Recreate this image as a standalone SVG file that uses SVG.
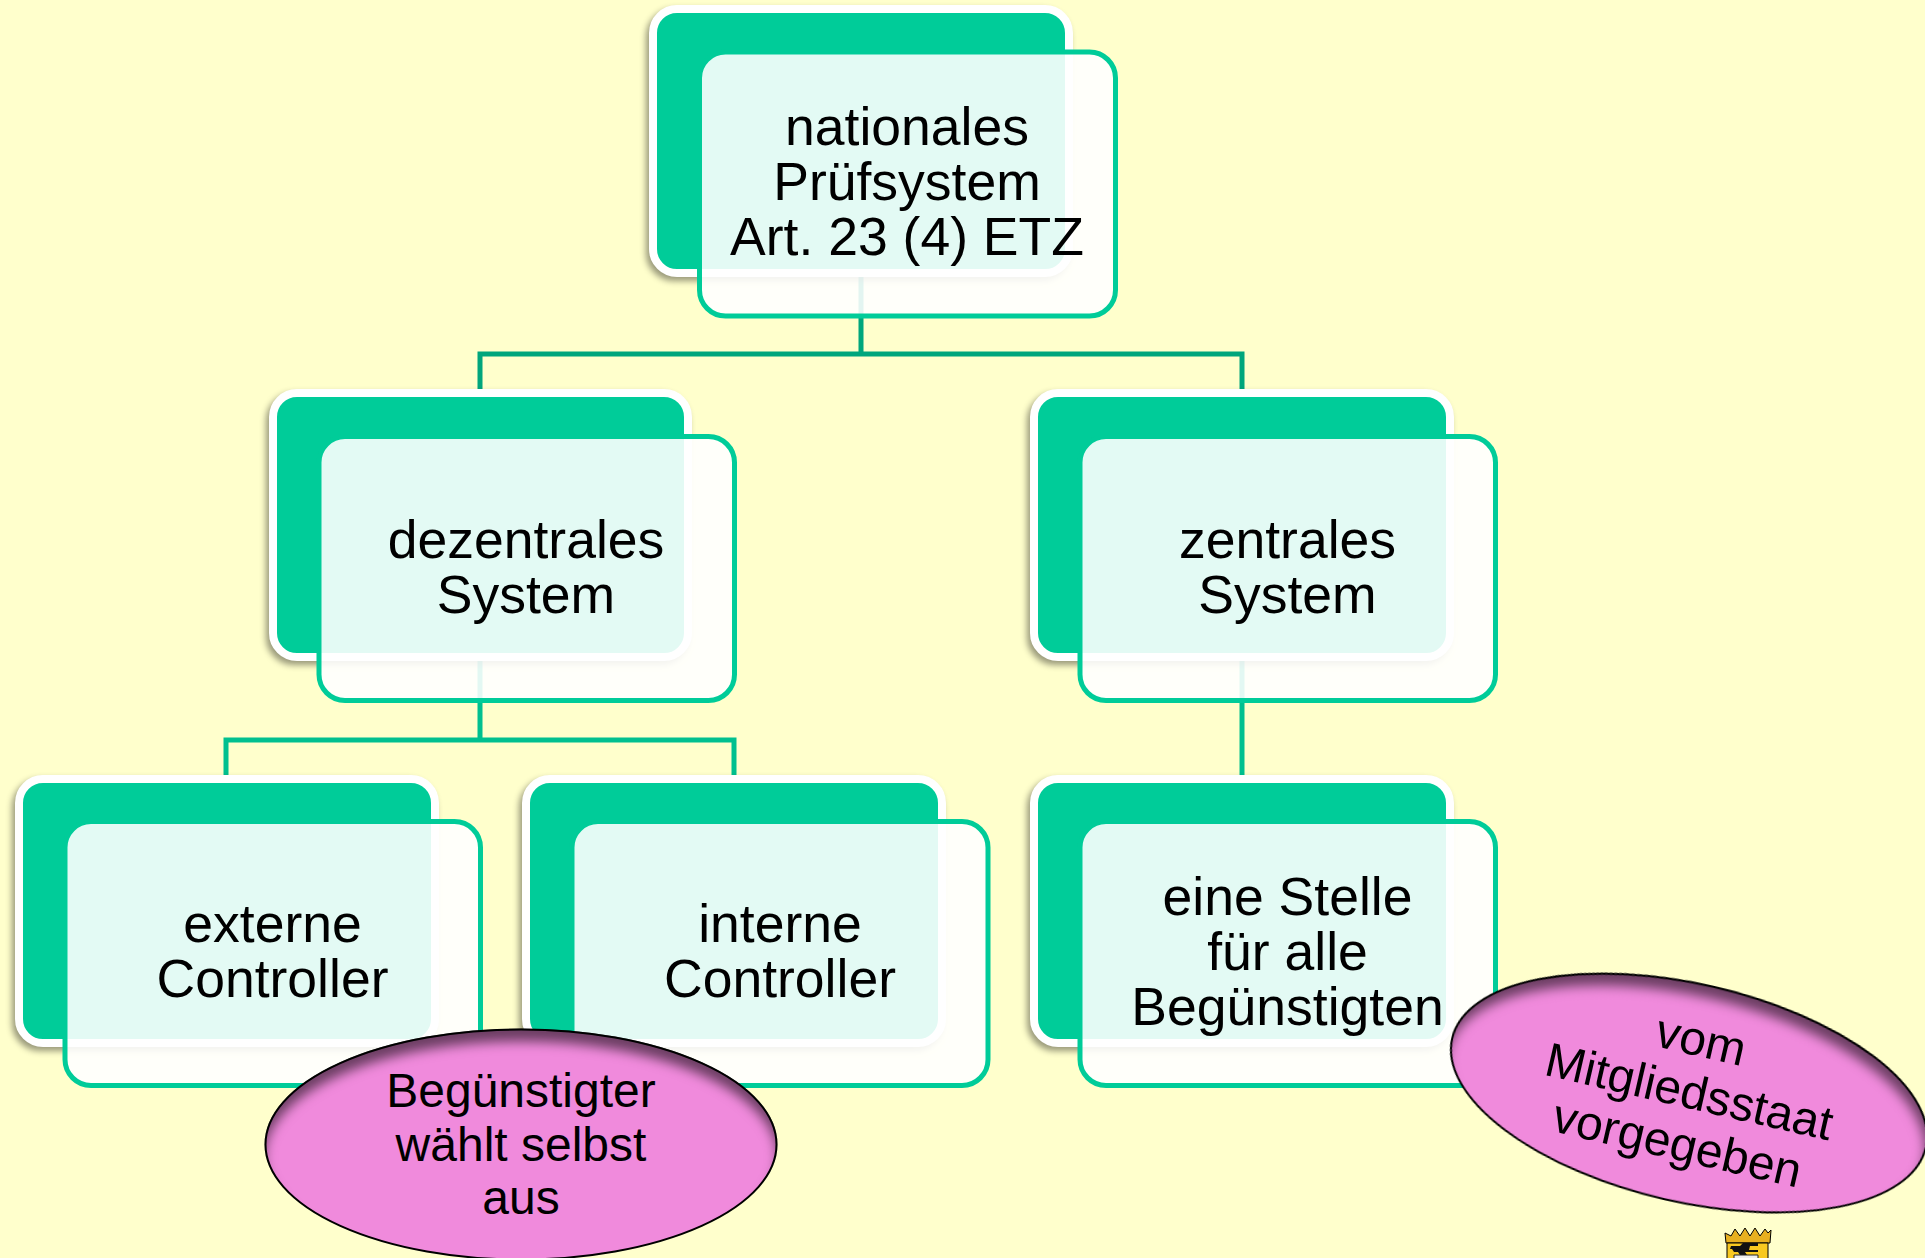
<svg xmlns="http://www.w3.org/2000/svg" width="1925" height="1258" viewBox="0 0 1925 1258">
<defs>
<style>
.back{fill:#00CC99;stroke:#fff;stroke-width:8;filter:url(#ds)}
.front{fill:#fff;fill-opacity:.89;stroke:#00CC99;stroke-width:5}
.t{font-family:"Liberation Sans",Arial,sans-serif;font-size:53.5px;fill:#000;text-anchor:middle}
.e{font-family:"Liberation Sans",Arial,sans-serif;font-size:48px;fill:#000;text-anchor:middle}
.oval{fill:#F08ADC;stroke:#000;stroke-width:2;filter:url(#is)}
.c1{fill:none;stroke:#00A67C;stroke-width:5}
.c2{fill:none;stroke:#00C08F;stroke-width:5}
</style>
<filter id="ds" x="-10%" y="-10%" width="120%" height="120%" color-interpolation-filters="sRGB">
<feDropShadow dx="-3" dy="4" stdDeviation="3" flood-color="#000" flood-opacity=".4"/>
</filter>
<filter id="is" x="-5%" y="-5%" width="110%" height="110%" color-interpolation-filters="sRGB">
<feGaussianBlur in="SourceAlpha" stdDeviation="6" result="b"/>
<feOffset in="b" dy="13" result="o"/>
<feComposite in="SourceAlpha" in2="o" operator="out" result="i"/>
<feFlood flood-color="#000" flood-opacity=".55"/>
<feComposite in2="i" operator="in" result="s"/>
<feMerge><feMergeNode in="SourceGraphic"/><feMergeNode in="s"/></feMerge>
</filter>
</defs>
<rect width="1925" height="1258" fill="#FFFFCC"/>
<g id="connectors">
<path class="c1" d="M861 276V354M480 392V354H1242V392"/>
<path class="c2" d="M480 660V740M226 776V740H734V776"/>
<path class="c2" d="M1242 660V776"/>
</g>
<g id="node-national">
<rect class="back" x="653" y="9" width="416" height="264" rx="24"/>
<rect class="front" x="699.500" y="52" width="416" height="264" rx="26"/>
<text class="t" x="907" y="145">nationales</text>
<text class="t" x="907" y="200">Prüfsystem</text>
<text class="t" x="907" y="255">Art. 23 (4) ETZ</text>
</g>
<g id="node-dezentral">
<rect class="back" x="273" y="393" width="415" height="264" rx="24"/>
<rect class="front" x="319" y="436.500" width="415.500" height="264" rx="26"/>
<text class="t" x="526" y="558">dezentrales</text>
<text class="t" x="526" y="613">System</text>
</g>
<g id="node-zentral">
<rect class="back" x="1034" y="393" width="416" height="264" rx="24"/>
<rect class="front" x="1080" y="436.500" width="415.500" height="264" rx="26"/>
<text class="t" x="1287.500" y="558">zentrales</text>
<text class="t" x="1287.500" y="613">System</text>
</g>
<g id="node-extern">
<rect class="back" x="19" y="779" width="416" height="264" rx="24"/>
<rect class="front" x="65" y="821.500" width="415.500" height="264" rx="26"/>
<text class="t" x="272.500" y="942">externe</text>
<text class="t" x="272.500" y="997">Controller</text>
</g>
<g id="node-intern">
<rect class="back" x="526" y="779" width="416" height="264" rx="24"/>
<rect class="front" x="572" y="821.500" width="416" height="264" rx="26"/>
<text class="t" x="780" y="942">interne</text>
<text class="t" x="780" y="997">Controller</text>
</g>
<g id="node-stelle">
<rect class="back" x="1034" y="779" width="416" height="264" rx="24"/>
<rect class="front" x="1080" y="821.500" width="415.500" height="264" rx="26"/>
<text class="t" x="1287.500" y="915">eine Stelle</text>
<text class="t" x="1287.500" y="970">für alle</text>
<text class="t" x="1287.500" y="1025">Begünstigten</text>
</g>
<g id="oval-beguenstigter">
<ellipse class="oval" cx="521" cy="1144.500" rx="255.500" ry="115"/>
<text class="e" x="521" y="1107">Begünstigter</text>
<text class="e" x="521" y="1161">wählt selbst</text>
<text class="e" x="521" y="1214">aus</text>
</g>
<g id="oval-mitgliedsstaat" transform="rotate(13 1689 1093)">
<ellipse class="oval" cx="1689" cy="1093" rx="243" ry="109"/>
<text class="e" x="1689" y="1055">vom</text>
<text class="e" x="1689" y="1108">Mitgliedsstaat</text>
<text class="e" x="1689" y="1161">vorgegeben</text>
</g>
<g id="wappen">
<path d="M1725 1233l6 3 4-7 5 7 5-8 5 8 5-8 5 8 5-7 3 4 3-3-1 13h-44z" fill="#E8B020" stroke="#000" stroke-width="1"/>
<path d="M1727 1243h41v16h-41z" fill="#F8C820" stroke="#000" stroke-width="1"/>
<path d="M1731 1246h9l3-3h15v3h-8l-1 4h9v2h-13l2 3h-7l-2-3h-4l-2-3h-2z" fill="#111"/>
<path d="M1734 1255h24v4h-24z" fill="#eee" stroke="#222" stroke-width="1"/>
</g>
</svg>
